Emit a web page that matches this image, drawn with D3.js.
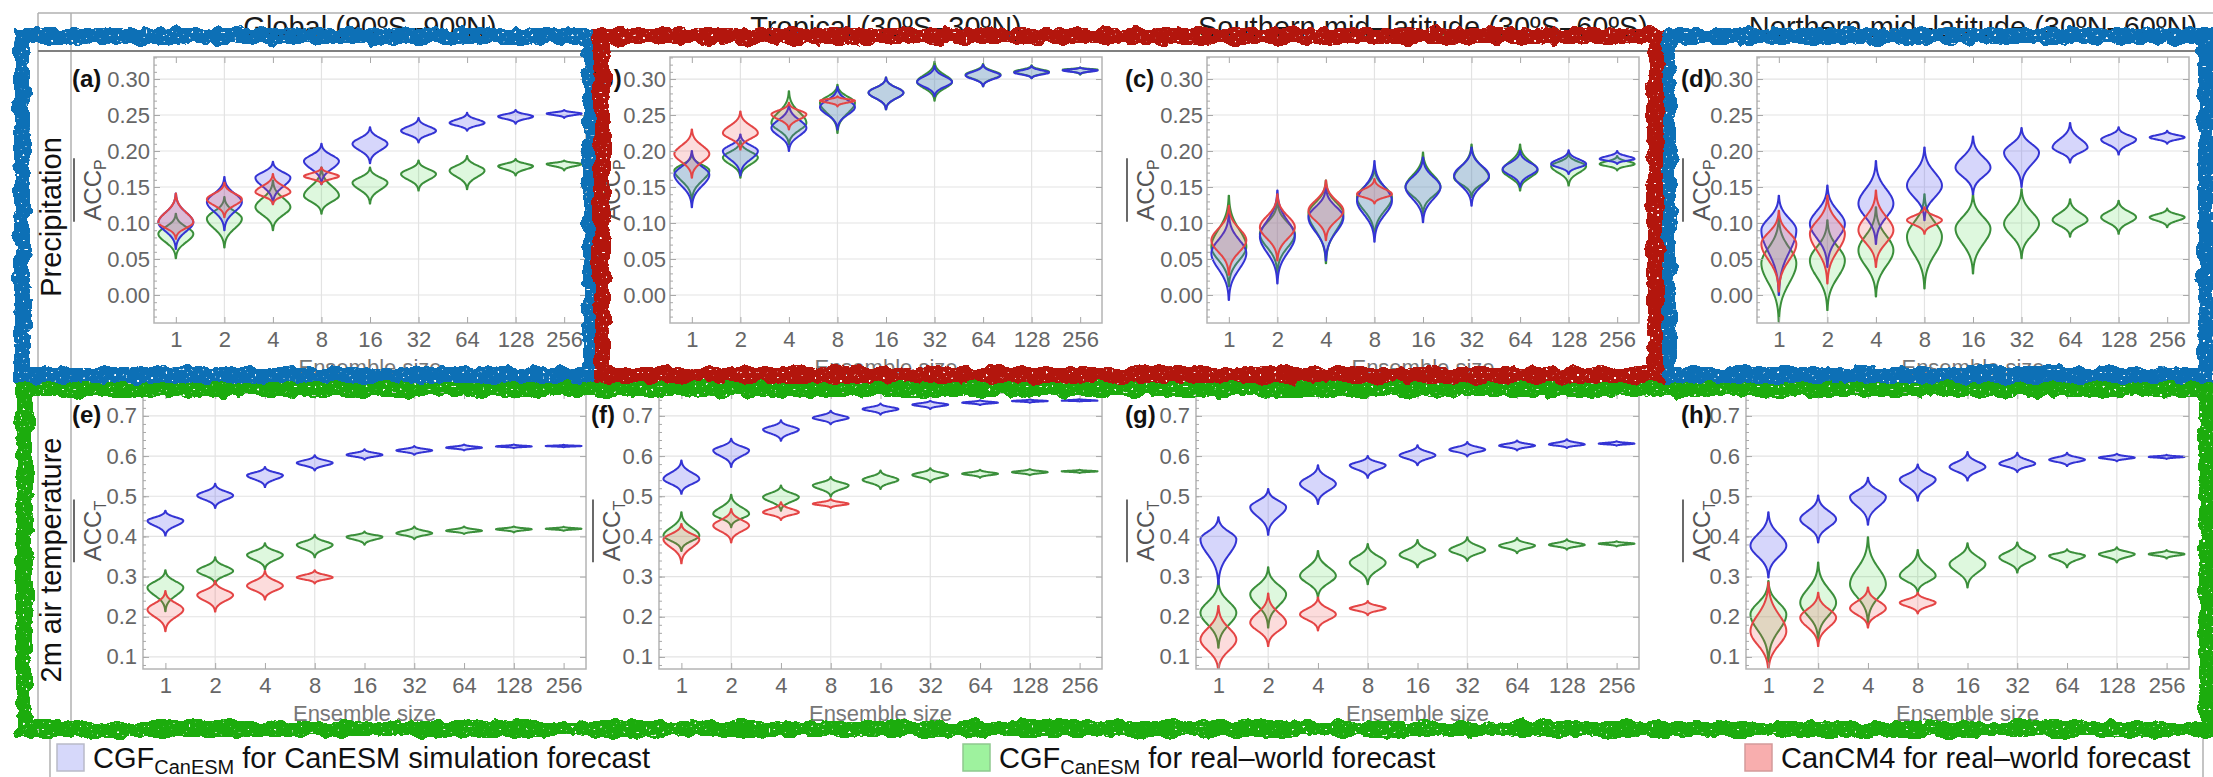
<!DOCTYPE html>
<html lang="en">
<head>
<meta charset="UTF-8">
<title>ACC versus ensemble size</title>
<script src="https://cdn.jsdelivr.net/npm/d3@7"></script>
<style>
  body { margin: 0; background: #fff; }
  svg text { font-family: "Liberation Sans", Arial, sans-serif; }
</style>
</head>
<body>
<svg id="chart" width="2213" height="777"></svg>
<script>
// ---- labels ----
const sizes = ["1", "2", "4", "8", "16", "32", "64", "128", "256"];
const gridSizes = ["2", "8", "32", "128"];
const regions = ["Global (90ºS\u201390ºN)", "Tropical (30ºS\u201330ºN)", "Southern mid\u2013latitude (30ºS\u201360ºS)", "Northern mid\u2013latitude (30ºN\u201360ºN)"];
const variables = ["Precipitation", "2m air temperature"];
const accSubs = ["P", "T"];
const letters = [["a", "b", "c", "d"], ["e", "f", "g", "h"]];
const pTicks = [0, 0.05, 0.10, 0.15, 0.20, 0.25, 0.30];
const tTicks = [0.1, 0.2, 0.3, 0.4, 0.5, 0.6, 0.7];

// ---- values: every violin is [lowest, densest, highest] ACC ----
// precipitation
const pGlobSim  = [[0.064,0.101,0.141],[0.090,0.129,0.164],[0.127,0.163,0.185],[0.154,0.186,0.210],[0.183,0.210,0.233],[0.212,0.228,0.246],[0.228,0.239,0.253],[0.238,0.248,0.257],[0.246,0.252,0.257]];
const pGlobReal = [[0.051,0.085,0.113],[0.066,0.106,0.136],[0.090,0.122,0.159],[0.113,0.138,0.177],[0.127,0.156,0.177],[0.145,0.168,0.187],[0.147,0.173,0.193],[0.166,0.179,0.189],[0.173,0.182,0.187]];
const pGlobCM4  = [[0.078,0.101,0.141],[0.108,0.133,0.156],[0.126,0.143,0.168],[0.154,0.165,0.177]];

const pTropSim  = [[0.122,0.167,0.200],[0.166,0.200,0.223],[0.200,0.232,0.265],[0.230,0.261,0.289],[0.258,0.281,0.302],[0.276,0.296,0.318],[0.290,0.305,0.320],[0.301,0.309,0.318],[0.307,0.312,0.316]];
const pTropReal = [[0.131,0.173,0.196],[0.163,0.191,0.214],[0.209,0.239,0.283],[0.225,0.267,0.292],[0.258,0.281,0.302],[0.270,0.296,0.324],[0.290,0.306,0.321],[0.301,0.310,0.319],[0.306,0.313,0.316]];
const pTropCM4  = [[0.163,0.196,0.230],[0.202,0.225,0.255],[0.230,0.251,0.267],[0.262,0.270,0.276]];

const pSouthSim  = [[-0.007,0.058,0.113],[0.016,0.081,0.145],[0.048,0.108,0.150],[0.074,0.131,0.186],[0.101,0.150,0.191],[0.124,0.166,0.205],[0.150,0.175,0.200],[0.168,0.182,0.201],[0.182,0.189,0.200]];
const pSouthReal = [[0.012,0.067,0.138],[0.030,0.085,0.131],[0.044,0.113,0.159],[0.081,0.136,0.177],[0.113,0.150,0.198],[0.136,0.163,0.209],[0.145,0.173,0.209],[0.152,0.179,0.196],[0.173,0.182,0.193]];
const pSouthCM4  = [[0.028,0.076,0.124],[0.048,0.094,0.140],[0.076,0.117,0.159],[0.127,0.140,0.161]];

const pNorthSim  = [[0.000,0.090,0.138],[0.039,0.099,0.152],[0.071,0.127,0.186],[0.104,0.152,0.205],[0.140,0.177,0.220],[0.150,0.198,0.232],[0.184,0.205,0.239],[0.195,0.216,0.233],[0.210,0.219,0.228]];
const pNorthReal = [[-0.037,0.044,0.108],[-0.021,0.048,0.104],[-0.002,0.062,0.122],[0.009,0.081,0.140],[0.030,0.092,0.140],[0.051,0.099,0.147],[0.081,0.104,0.133],[0.085,0.108,0.131],[0.094,0.108,0.120]];
const pNorthCM4  = [[0.005,0.071,0.117],[0.016,0.085,0.138],[0.039,0.090,0.145],[0.085,0.104,0.122]];

// 2m air temperature
const tGlobSim  = [[0.402,0.439,0.464],[0.471,0.502,0.531],[0.523,0.552,0.573],[0.564,0.583,0.602],[0.591,0.603,0.617],[0.603,0.614,0.625],[0.614,0.621,0.629],[0.620,0.624,0.629],[0.622,0.625,0.628]];
const tGlobReal = [[0.214,0.273,0.316],[0.281,0.314,0.348],[0.318,0.354,0.383],[0.348,0.379,0.404],[0.379,0.399,0.412],[0.393,0.408,0.425],[0.406,0.414,0.425],[0.410,0.418,0.425],[0.414,0.419,0.424]];
const tGlobCM4  = [[0.164,0.218,0.264],[0.213,0.254,0.289],[0.243,0.277,0.314],[0.283,0.298,0.316]];

const tTropSim  = [[0.506,0.543,0.589],[0.573,0.614,0.643],[0.638,0.666,0.689],[0.679,0.695,0.713],[0.703,0.717,0.731],[0.717,0.728,0.738],[0.727,0.733,0.739],[0.733,0.737,0.741],[0.736,0.738,0.742]];
const tTropReal = [[0.364,0.402,0.460],[0.423,0.456,0.504],[0.464,0.498,0.527],[0.499,0.527,0.548],[0.518,0.541,0.564],[0.535,0.553,0.570],[0.546,0.556,0.566],[0.552,0.560,0.568],[0.558,0.562,0.566]];
const tTropCM4  = [[0.333,0.393,0.431],[0.385,0.427,0.468],[0.441,0.460,0.485],[0.471,0.481,0.493]];

const tSouthSim  = [[0.281,0.393,0.448],[0.404,0.473,0.518],[0.481,0.531,0.577],[0.546,0.577,0.600],[0.577,0.602,0.627],[0.599,0.616,0.635],[0.614,0.626,0.639],[0.620,0.629,0.642],[0.626,0.631,0.637]];
const tSouthReal = [[0.123,0.210,0.289],[0.173,0.256,0.323],[0.248,0.302,0.364],[0.281,0.335,0.381],[0.323,0.354,0.391],[0.339,0.366,0.398],[0.358,0.377,0.396],[0.367,0.379,0.393],[0.375,0.382,0.388]];
const tSouthCM4  = [[0.064,0.143,0.227],[0.127,0.185,0.258],[0.166,0.206,0.248],[0.204,0.221,0.239]];

const tNorthSim  = [[0.298,0.377,0.460],[0.385,0.443,0.502],[0.429,0.498,0.546],[0.489,0.542,0.579],[0.539,0.573,0.610],[0.560,0.581,0.608],[0.575,0.591,0.608],[0.587,0.596,0.606],[0.593,0.598,0.603]];
const tNorthReal = [[0.089,0.206,0.289],[0.143,0.235,0.335],[0.185,0.281,0.398],[0.260,0.302,0.366],[0.273,0.331,0.383],[0.310,0.348,0.385],[0.323,0.352,0.368],[0.335,0.356,0.373],[0.345,0.356,0.366]];
const tNorthCM4  = [[0.064,0.164,0.285],[0.127,0.198,0.260],[0.173,0.221,0.273],[0.208,0.235,0.260]];

// panels by row and column, each with series in drawing order (real, sim, CanCM4)
const panels = [
  [[pGlobReal, pGlobSim, pGlobCM4], [pTropReal, pTropSim, pTropCM4], [pSouthReal, pSouthSim, pSouthCM4], [pNorthReal, pNorthSim, pNorthCM4]],
  [[tGlobReal, tGlobSim, tGlobCM4], [tTropReal, tTropSim, tTropCM4], [tSouthReal, tSouthSim, tSouthCM4], [tNorthReal, tNorthSim, tNorthCM4]]
];

// ---- styles ----
const seriesStyle = [
  {stroke: "#3b8f3b", fill: "rgba(70,215,70,0.18)"},   // CGF real world
  {stroke: "#3434d4", fill: "rgba(90,90,240,0.25)"},   // CGF CanESM simulation
  {stroke: "#e44545", fill: "rgba(240,80,80,0.20)"}    // CanCM4
];

// ---- layout ----
const colRight = [586, 1102, 1639, 2189];
const colAnchor = [72, 591, 1125, 1681];
const rowCfg = [
  {top: 57, bottom: 323, width: 432, domain: [-0.0389, 0.3306], ticks: pTicks, minor: 0.01, fmt: d3.format(".2f"), pad: 4},
  {top: 393, bottom: 669, width: 443, domain: [0.070, 0.757], ticks: tTicks, minor: 0.02, fmt: d3.format(".1f"), pad: 6}
];

const svg = d3.select("#chart");
const defs = svg.append("defs");

// roughened marker-pen look for the highlight boxes
const f = defs.append("filter").attr("id", "rough")
  .attr("x", "-8%").attr("y", "-8%").attr("width", "116%").attr("height", "116%");
f.append("feTurbulence").attr("type", "fractalNoise").attr("baseFrequency", 0.07).attr("numOctaves", 3).attr("seed", 4).attr("result", "n1");
f.append("feDisplacementMap").attr("in", "SourceGraphic").attr("in2", "n1").attr("scale", 11)
  .attr("xChannelSelector", "R").attr("yChannelSelector", "G").attr("result", "d");
f.append("feTurbulence").attr("type", "fractalNoise").attr("baseFrequency", 0.35).attr("numOctaves", 1).attr("seed", 7).attr("result", "n2");
f.append("feColorMatrix").attr("in", "n2").attr("type", "matrix")
  .attr("values", "0 0 0 0 0  0 0 0 0 0  0 0 0 0 0  0 0 0 -22 16.5").attr("result", "mask");
f.append("feComposite").attr("in", "d").attr("in2", "mask").attr("operator", "in");

// ---- table lines ----
const tbl = svg.append("g").attr("stroke", "#b0b0b0").attr("stroke-width", 1.5);
tbl.append("line").attr("x1", 38).attr("x2", 2213).attr("y1", 13).attr("y2", 13);
tbl.append("line").attr("x1", 38).attr("x2", 38).attr("y1", 13).attr("y2", 730);
tbl.append("line").attr("x1", 71).attr("x2", 71).attr("y1", 13).attr("y2", 730);
tbl.append("line").attr("x1", 38).attr("x2", 2213).attr("y1", 51).attr("y2", 51).attr("stroke", "#808080").attr("stroke-width", 2);
tbl.append("line").attr("x1", 38).attr("x2", 2213).attr("y1", 383).attr("y2", 383);
tbl.append("line").attr("x1", 50).attr("x2", 50).attr("y1", 737).attr("y2", 777);
tbl.append("line").attr("x1", 2203).attr("x2", 2203).attr("y1", 737).attr("y2", 777);

// column headers
svg.selectAll(".hdr").data(regions).join("text")
  .attr("class", "hdr")
  .attr("x", (d, i) => colRight[i] - rowCfg[0].width / 2)
  .attr("y", 37)
  .attr("text-anchor", "middle")
  .attr("font-size", 29)
  .attr("fill", "#1a1a1a")
  .text(d => d);

// row headers
const rowMid = [217, 560];
svg.selectAll(".rowlab").data(variables).join("text")
  .attr("class", "rowlab")
  .attr("transform", (d, i) => `translate(61,${rowMid[i]}) rotate(-90)`)
  .attr("text-anchor", "middle")
  .attr("font-size", 29)
  .attr("fill", "#111")
  .text(d => d);

function violinPath(tri, cx, y, halfW) {
  const [lo, mid, hi] = tri;
  const pts = d3.range(61).map(i => lo + (hi - lo) * i / 60).concat([mid]).sort((a, b) => a - b);
  const w = v => {
    const s = (v < mid ? mid - lo : hi - mid) / 3;
    return s > 0 ? halfW * Math.exp(-0.5 * ((v - mid) / s) ** 2) : 0;
  };
  return d3.area()
    .y(v => y(v))
    .x0(v => cx - w(v))
    .x1(v => cx + w(v))
    .curve(d3.curveMonotoneY)(pts);
}

rowCfg.forEach((cfg, r) => {
  colRight.forEach((right, c) => {
    const left = right - cfg.width;
    const x = d3.scalePoint().domain(sizes).range([left, right]).padding(0.45);
    const y = d3.scaleLinear().domain(cfg.domain).range([cfg.bottom, cfg.top]);
    const g = svg.append("g");

    // grid
    g.selectAll(".gx").data(gridSizes).join("line")
      .attr("x1", d => x(d)).attr("x2", d => x(d))
      .attr("y1", cfg.top).attr("y2", cfg.bottom)
      .attr("stroke", "#e3e3e3").attr("stroke-width", 1.2);
    g.selectAll(".gy").data(cfg.ticks).join("line")
      .attr("x1", left).attr("x2", right)
      .attr("y1", d => y(d)).attr("y2", d => y(d))
      .attr("stroke", "#e3e3e3").attr("stroke-width", 1.2);

    // violins
    const clipId = `clip${r}${c}`;
    defs.append("clipPath").attr("id", clipId).append("rect")
      .attr("x", left).attr("y", cfg.top).attr("width", cfg.width).attr("height", cfg.bottom - cfg.top);
    const vg = g.append("g").attr("clip-path", `url(#${clipId})`);
    const halfW = x.step() * 0.36;
    panels[r][c].forEach((series, s) => {
      vg.selectAll(null).data(series).join("path")
        .attr("d", (d, i) => violinPath(d, x(sizes[i]), y, halfW))
        .attr("fill", seriesStyle[s].fill)
        .attr("stroke", seriesStyle[s].stroke)
        .attr("stroke-width", 2)
        .attr("stroke-linejoin", "round");
    });

    // frame
    g.append("rect")
      .attr("x", left).attr("y", cfg.top).attr("width", cfg.width).attr("height", cfg.bottom - cfg.top)
      .attr("fill", "none").attr("stroke", "#b4b4b4").attr("stroke-width", 1.5);

    // axes
    const styleAxis = sel => {
      sel.select(".domain").remove();
      sel.attr("font-size", 22).attr("font-family", null).attr("color", "#666");
      sel.selectAll("line").attr("stroke", "#a8a8a8");
    };
    g.append("g").attr("transform", `translate(0,${cfg.bottom})`)
      .call(d3.axisBottom(x).tickSize(-6).tickPadding(8)).call(styleAxis);
    g.append("g").attr("transform", `translate(0,${cfg.top})`)
      .call(d3.axisTop(x).tickSize(-6).tickFormat("")).call(styleAxis);
    g.append("g").attr("transform", `translate(${left},0)`)
      .call(d3.axisLeft(y).tickValues(cfg.ticks).tickFormat(cfg.fmt).tickSize(-6).tickPadding(cfg.pad)).call(styleAxis);
    const minorTicks = d3.range(Math.ceil(cfg.domain[0] / cfg.minor), Math.floor(cfg.domain[1] / cfg.minor) + 1).map(k => k * cfg.minor);
    g.append("g").attr("transform", `translate(${left},0)`)
      .call(d3.axisLeft(y).tickValues(minorTicks).tickFormat("").tickSize(-3)).call(styleAxis);
    g.append("g").attr("transform", `translate(${right},0)`)
      .call(d3.axisRight(y).tickValues(cfg.ticks).tickFormat("").tickSize(-6)).call(styleAxis);

    // x title
    g.append("text")
      .attr("x", (left + right) / 2).attr("y", cfg.bottom + 52)
      .attr("text-anchor", "middle").attr("font-size", 22).attr("fill", "#777")
      .text("Ensemble size");

    // panel letter
    g.append("text")
      .attr("x", colAnchor[c]).attr("y", cfg.top + 30)
      .attr("font-size", 24).attr("font-weight", "bold").attr("fill", "#111")
      .text(`(${letters[r][c]})`);

    // y title: ACC with overline
    const yt = g.append("g")
      .attr("transform", `translate(${colAnchor[c] + 29},${(cfg.top + cfg.bottom) / 2}) rotate(-90)`);
    const t = yt.append("text").attr("text-anchor", "middle").attr("font-size", 24).attr("fill", "#555");
    t.append("tspan").text("ACC");
    t.append("tspan").attr("font-size", 16).attr("dy", 5).text(accSubs[r]);
    const bb = t.node().getBBox();
    yt.append("line")
      .attr("x1", bb.x - 1).attr("x2", bb.x + bb.width + 1)
      .attr("y1", -27).attr("y2", -27)
      .attr("stroke", "#444").attr("stroke-width", 1.6);
  });
});

// ---- legend ----
const legendX = [57, 963, 1745];
const legendMain = ["CGF", "CGF", "CanCM4 for real\u2013world forecast"];
const legendSub = ["CanESM", "CanESM", ""];
const legendRest = [" for CanESM simulation forecast", " for real\u2013world forecast", ""];
const legendFill = ["#d6d8fa", "#9ef29e", "#f8aeae"];
const legendEdge = ["#b9bac8", "#8fc98f", "#d49a9a"];

legendX.forEach((lx, i) => {
  svg.append("rect")
    .attr("x", lx).attr("y", 744).attr("width", 27).attr("height", 27)
    .attr("fill", legendFill[i]).attr("stroke", legendEdge[i]).attr("stroke-width", 1.5);
  const t = svg.append("text").attr("x", lx + 36).attr("y", 768).attr("font-size", 29).attr("fill", "#111");
  t.append("tspan").text(legendMain[i]);
  if (legendSub[i]) {
    t.append("tspan").attr("font-size", 20).attr("dy", 6).text(legendSub[i]);
    t.append("tspan").attr("dy", -6).text(legendRest[i]);
  }
});

// ---- hand-drawn highlight boxes ----
const boxColor = ["#1dac0b", "#0c6fb6", "#0c6fb6", "#b3170b"];
const boxX0 = [24, 22, colRight[2] + 29, colRight[0] + 16];
const boxX1 = [2207, colRight[0] + 5, 2206, colRight[2] + 16];
const boxY0 = [389, 36, 36, 36];
const boxY1 = [729, 375, 375, 375];
const hb = svg.append("g");
boxColor.forEach((col, i) => {
  hb.append("rect")
    .attr("x", boxX0[i]).attr("y", boxY0[i])
    .attr("width", boxX1[i] - boxX0[i]).attr("height", boxY1[i] - boxY0[i])
    .attr("fill", "none").attr("stroke", col).attr("stroke-width", 16)
    .attr("filter", "url(#rough)");
});
</script>
</body>
</html>
